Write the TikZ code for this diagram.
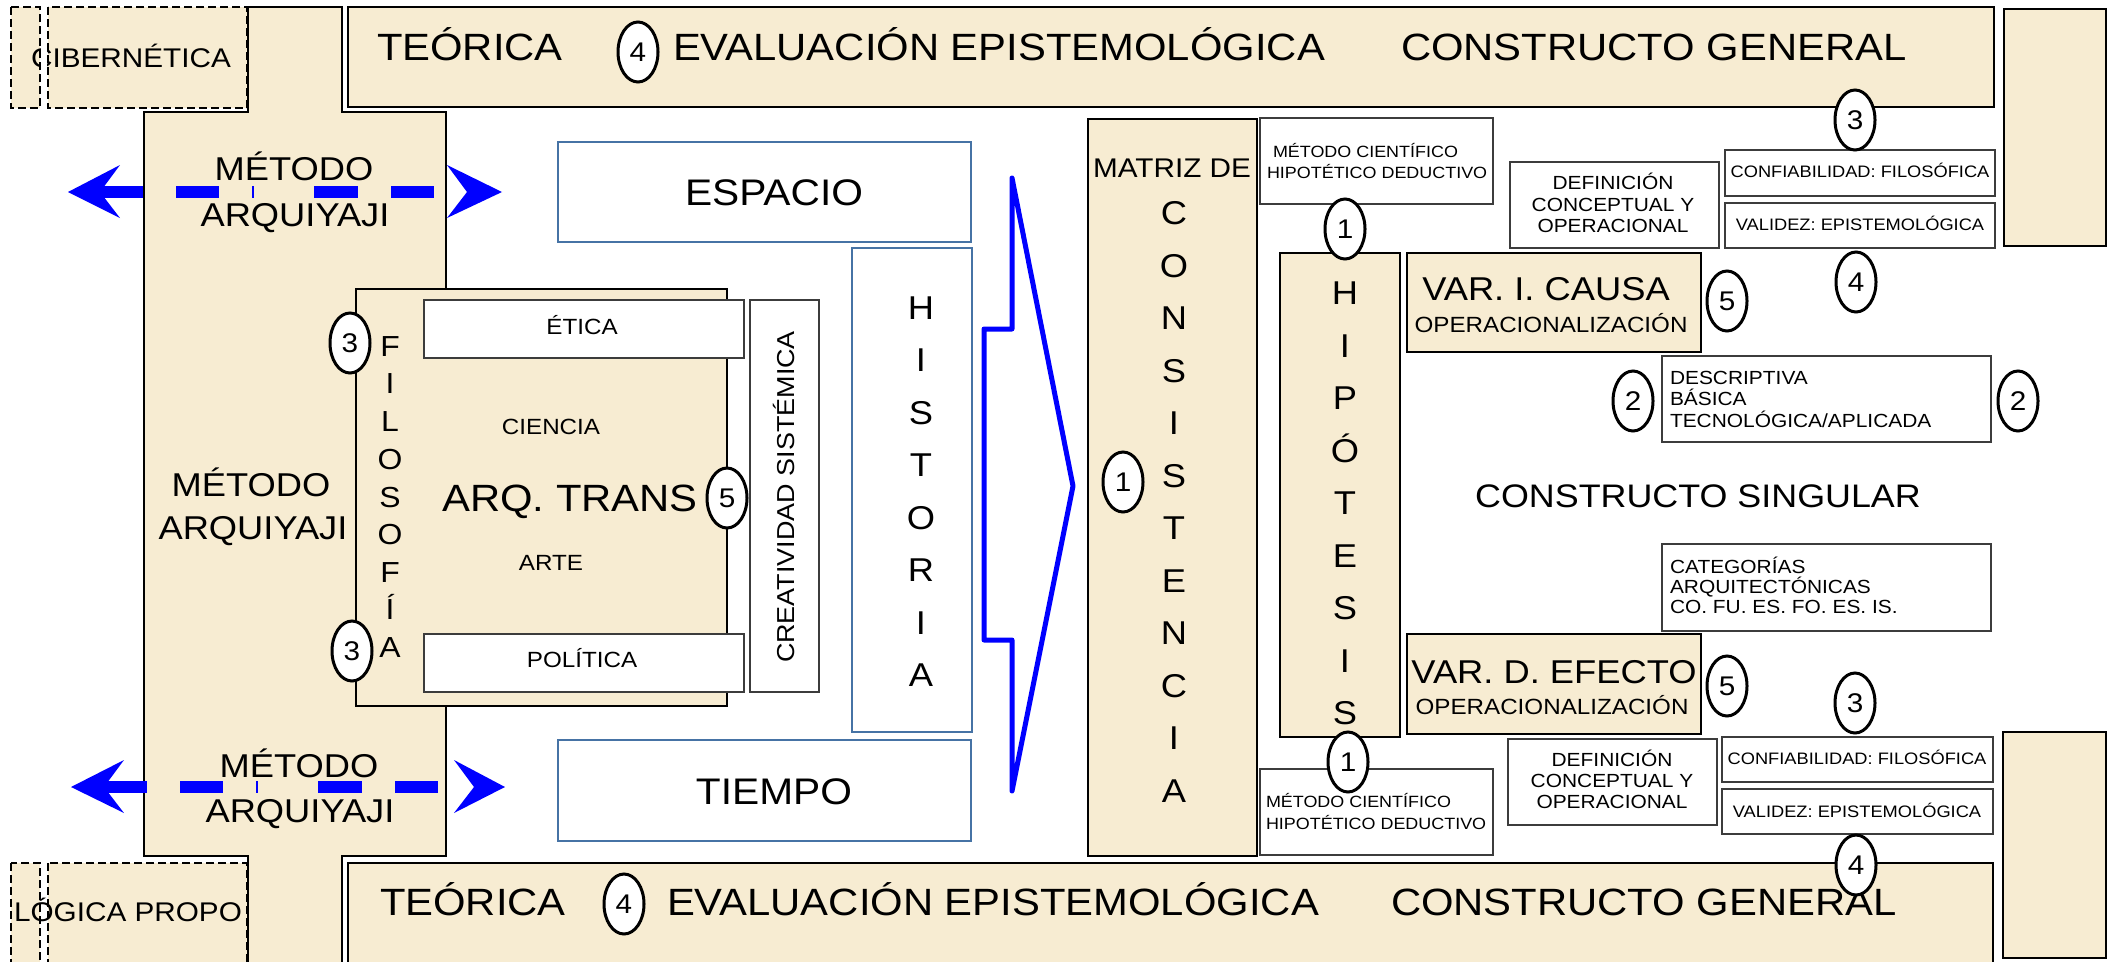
\documentclass[tikz,border=0pt]{standalone}
\usepackage{fontspec}
\setmainfont{Liberation Sans}[FakeStretch=1.1]
\usetikzlibrary{shapes.geometric}
\definecolor{parch}{RGB}{247,236,210}
\definecolor{bluebd}{RGB}{70,115,165}
\definecolor{arrblue}{RGB}{0,0,255}
\definecolor{grayline}{RGB}{60,60,60}
\newcommand\fsz[1]{\fontsize{#1}{#1}\selectfont}
\newcommand\bx[7]{%
 \pgfmathsetmacro\bxw{#5-#3}%
 \pgfmathsetmacro\bxh{#6-#4}%
 \pgfmathsetmacro\bxcx{(#3+#5)/2}%
 \pgfmathsetmacro\bxcy{(#4+#6)/2}%
 \node[#1, minimum width=\bxw pt, minimum height=\bxh pt] (#2) at (\bxcx,\bxcy) {#7};}
\tikzset{
 parchbox/.style={draw=black, line width=2.5pt, fill=parch, inner sep=0pt, outer sep=0pt},
 whitebox/.style={draw=grayline, line width=1.2pt, fill=white, inner sep=0pt, outer sep=0pt},
 bluebox/.style={draw=bluebd, line width=2pt, fill=white, inner sep=0pt, outer sep=0pt},
 dbox/.style={fill=parch, draw=none, inner sep=0pt, outer sep=0pt},
 dashline/.style={draw=black, line width=2.2pt, dash pattern=on 8pt off 4pt},
 t/.style={inner sep=0pt, outer sep=0pt, font={\fsz{#1}}, text height=\fpeval{0.72*#1}pt, text depth=0pt},
 num/.style={ellipse, draw=black, line width=3pt, fill=white, minimum width=40pt, minimum height=60pt, inner sep=0pt, font={\fsz{27}}},
 arrshaft/.style={draw=arrblue, line width=12pt, dash pattern=on 43pt off 33pt on 43pt off 33pt on 2pt off 60pt on 44pt off 33pt on 43pt off 40pt},
 bigarrow/.style={draw=arrblue, line width=5pt, line join=round}
}
\begin{document}
\begin{tikzpicture}[x=1pt,y=-1pt]
\useasboundingbox (0,0) rectangle (2112,961);
\fill[white] (0,0) rectangle (2112,961);

% ---- dashed boxes on the left
\bx{dbox}{cibA}{11}{7}{40}{108}{}
\bx{dbox}{cibB}{48}{7}{247}{108}{}
\node[t=27] (cibT) at (131,58) {CIBERNÉTICA};
\fill[white] (41,6) rectangle (47,109);
\draw[dashline] (cibA.north west) rectangle (cibA.south east);
\draw[dashline] (cibB.north west) rectangle (cibB.south east);

\bx{dbox}{logA}{11}{863}{40}{975}{}
\bx{dbox}{logB}{48}{863}{247}{975}{}
\fill[white] (41,862) rectangle (47,975);
\node[t=27] (logT) at (128,912) {LÓGICA PROPO};
\draw[dashline] (logA.north west) rectangle (logA.south east);
\draw[dashline] (logB.north west) rectangle (logB.south east);

% ---- cross shaped column
\filldraw[fill=parch, draw=black, line width=2.5pt] (248,7) -- (342,7) -- (342,112) -- (446,112) -- (446,856) -- (342,856) -- (342,975) -- (248,975) -- (248,856) -- (144,856) -- (144,112) -- (248,112) -- cycle;

% ---- bands and right boxes
\bx{parchbox}{bandT}{348}{7}{1994}{107}{}
\bx{parchbox}{bandB}{348}{863}{1993}{975}{}
\bx{parchbox}{rT}{2004}{9}{2106}{246}{}
\bx{parchbox}{rB}{2003}{732}{2106}{958}{}

\node[t=38, anchor=west] (tTeo) at (377,47) {TEÓRICA};
\node[t=38, anchor=west] (tEva) at (673,47) {EVALUACIÓN EPISTEMOLÓGICA};
\node[t=38, anchor=west] (tCon) at (1401,47) {CONSTRUCTO GENERAL};
\node[t=38, anchor=west] (bTeo) at (380,902) {TEÓRICA};
\node[t=38, anchor=west] (bEva) at (667,902) {EVALUACIÓN EPISTEMOLÓGICA};
\node[t=38, anchor=west] (bCon) at (1391,902) {CONSTRUCTO GENERAL};

% ---- blue dashed arrows
\coordinate (a1l) at (100,192);
\coordinate (a1r) at (467,192);
\draw[arrshaft] (a1l) -- (a1r);
\fill[arrblue] (a1l) -- ++(20,-27) -- ++(-52,27) -- ++(52,26) -- cycle;
\fill[arrblue] (a1r) -- ++(-20,-27) -- ++(55,27) -- ++(-55,26) -- cycle;
\coordinate (a2l) at (104,787);
\coordinate (a2r) at (474,787);
\draw[arrshaft] (a2l) -- (a2r);
\fill[arrblue] (a2l) -- ++(20,-27) -- ++(-53,27) -- ++(53,26) -- cycle;
\fill[arrblue] (a2r) -- ++(-20,-27) -- ++(51,27) -- ++(-51,26) -- cycle;

\node[t=33] (m1a) at (294,169) {MÉTODO};
\node[t=33] (m1b) at (295,215) {ARQUIYAJI};
\node[t=33] (m2a) at (251,485) {MÉTODO};
\node[t=33] (m2b) at (253,528) {ARQUIYAJI};
\node[t=33] (m3a) at (299,766) {MÉTODO};
\node[t=33] (m3b) at (300,811) {ARQUIYAJI};

% ---- ARQ. TRANS block
\bx{parchbox}{arq}{356}{289}{727}{706}{}
\bx{whitebox}{etica}{424}{300}{744}{358}{}
\node[t=22] (eticaT) at (582,327) {ÉTICA};
\bx{whitebox}{poli}{424}{634}{744}{692}{}
\node[t=22] (poliT) at (582,660) {POLÍTICA};
\bx{whitebox}{crea}{750}{300}{819}{692}{}
\node[t=24.5, rotate=90] (creaT) at (786,497) {CREATIVIDAD SISTÉMICA};
\node[t=22] (cien) at (551,427) {CIENCIA};
\node[t=38] (arqT) at (570,498) {ARQ. TRANS};
\node[t=22] (arte) at (551,563) {ARTE};
\foreach \l/\yy [count=\i] in {F/346, I/383, L/421, O/459, S/497, O/534, F/572, Í/609, A/647}
  \node[t=29] (filo\i) at (390,\yy) {\l};

% ---- espacio / tiempo / historia
\bx{bluebox}{esp}{558}{142}{971}{242}{}
\node[t=37] (espT) at (774,192) {ESPACIO};
\bx{bluebox}{tie}{558}{740}{971}{841}{}
\node[t=37] (tieT) at (774,791) {TIEMPO};
\bx{bluebox}{hist}{852}{248}{972}{732}{}
\foreach \l/\yy [count=\i] in {H/308, I/360, S/413, T/465, O/518, R/570, I/623, A/675}
  \node[t=33] (hist\i) at (921,\yy) {\l};

\draw[bigarrow] (1012,178) -- (1012,329) -- (984,329) -- (984,640) -- (1012,640) -- (1012,791) -- (1073,486) -- cycle;

% ---- matriz de consistencia
\bx{parchbox}{matriz}{1088}{119}{1257}{856}{}
\node[t=27] (matT) at (1172,168) {MATRIZ DE};
\foreach \l [count=\i from 0] in {C,O,N,S,I,S,T,E,N,C,I,A}
  \node[t=33] (cons\i) at (1174,213+52.5*\i) {\l};

% ---- metodo cientifico boxes
\bx{whitebox}{mc1}{1260}{118}{1493}{204}{}
\node[t=16.3, anchor=west] (mc1a) at (1273,152) {MÉTODO CIENTÍFICO};
\node[t=16.3, anchor=west] (mc1b) at (1267,173) {HIPOTÉTICO DEDUCTIVO};
\bx{whitebox}{mc2}{1260}{769}{1493}{855}{}
\node[t=16.3, anchor=west] (mc2a) at (1266,802) {MÉTODO CIENTÍFICO};
\node[t=16.3, anchor=west] (mc2b) at (1266,824) {HIPOTÉTICO DEDUCTIVO};

% ---- hipotesis
\bx{parchbox}{hip}{1280}{253}{1400}{737}{}
\foreach \l/\yy [count=\i] in {H/293, I/346, P/398, Ó/451, T/503, E/556, S/608, I/661, S/713}
  \node[t=33] (hipo\i) at (1345,\yy) {\l};

% ---- variables
\bx{parchbox}{varI}{1407}{253}{1701}{352}{}
\node[t=33] (varIa) at (1546,289) {VAR. I. CAUSA};
\node[t=22] (varIb) at (1551,325) {OPERACIONALIZACIÓN};
\bx{parchbox}{varD}{1407}{634}{1701}{734}{}
\node[t=33] (varDa) at (1554,672) {VAR. D. EFECTO};
\node[t=22] (varDb) at (1552,707) {OPERACIONALIZACIÓN};

% ---- definicion boxes
\bx{whitebox}{def1}{1510}{162}{1719}{248}{}
\node[t=19] (def1a) at (1613,183) {DEFINICIÓN};
\node[t=19] (def1b) at (1613,205) {CONCEPTUAL Y};
\node[t=19] (def1c) at (1613,226) {OPERACIONAL};
\bx{whitebox}{def2}{1508}{739}{1717}{825}{}
\node[t=19] (def2a) at (1612,760) {DEFINICIÓN};
\node[t=19] (def2b) at (1612,781) {CONCEPTUAL Y};
\node[t=19] (def2c) at (1612,802) {OPERACIONAL};

% ---- confiabilidad / validez
\bx{whitebox}{conf1}{1725}{150}{1995}{196}{}
\node[t=16.6] (conf1T) at (1860,172) {CONFIABILIDAD: FILOSÓFICA};
\bx{whitebox}{val1}{1725}{203}{1995}{248}{}
\node[t=16.6] (val1T) at (1860,225) {VALIDEZ: EPISTEMOLÓGICA};
\bx{whitebox}{conf2}{1722}{737}{1993}{782}{}
\node[t=16.6] (conf2T) at (1857,759) {CONFIABILIDAD: FILOSÓFICA};
\bx{whitebox}{val2}{1722}{789}{1993}{834}{}
\node[t=16.6] (val2T) at (1857,812) {VALIDEZ: EPISTEMOLÓGICA};

% ---- descriptiva / categorias
\bx{whitebox}{desc}{1662}{356}{1991}{442}{}
\node[t=19, anchor=west] (desc1) at (1670,378) {DESCRIPTIVA};
\node[t=19, anchor=west] (desc2) at (1670,399) {BÁSICA};
\node[t=19, anchor=west] (desc3) at (1670,421) {TECNOLÓGICA/APLICADA};
\bx{whitebox}{cat}{1662}{544}{1991}{631}{}
\node[t=19, anchor=west] (cat1) at (1670,567) {CATEGORÍAS};
\node[t=19, anchor=west] (cat2) at (1670,587) {ARQUITECTÓNICAS};
\node[t=19, anchor=west] (cat3) at (1670,607) {CO. FU. ES. FO. ES. IS.};

\node[t=32.6] (sing) at (1698,496) {CONSTRUCTO SINGULAR};

% ---- numbered ellipses
\node[num] (n4t) at (638,52) {4};
\node[num] (n4b) at (624,904) {4};
\node[num] (n3a) at (350,343) {3};
\node[num] (n3b) at (352,651) {3};
\node[num] (n5a) at (727,498) {5};
\node[num] (n1m) at (1123,482) {1};
\node[num] (n1t) at (1345,229) {1};
\node[num] (n1b) at (1348,762) {1};
\node[num] (n5t) at (1727,301) {5};
\node[num] (n5b) at (1727,686) {5};
\node[num] (n3t) at (1855,120) {3};
\node[num] (n4r) at (1856,282) {4};
\node[num] (n3r) at (1855,703) {3};
\node[num] (n4s) at (1856,865) {4};
\node[num] (n2l) at (1633,401) {2};
\node[num] (n2r) at (2018,401) {2};
\end{tikzpicture}
\end{document}
